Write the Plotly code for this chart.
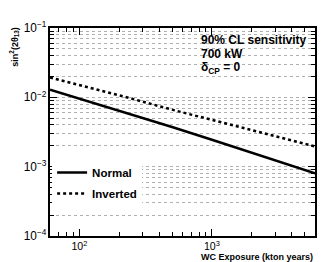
import plotly.graph_objects as go

exposure = [60, 100, 200, 500, 1000, 2000, 4000, 6000]
normal = [0.0129, 0.00962, 0.00641, 0.00374, 0.00244, 0.00159, 0.00103, 0.00080]
inverted = [0.0193, 0.0151, 0.0107, 0.00664, 0.00472, 0.00336, 0.00239, 0.00196]
series_names = ["Normal", "Inverted"]
info_lines = ["90% CL sensitivity", "700 kW", "δ<sub>CP</sub> = 0"]

FONT = "Liberation Sans, Arial, Helvetica, sans-serif"

fig = go.Figure()
fig.add_trace(go.Scatter(x=exposure, y=normal, mode="lines", name="<b>" + series_names[0] + "</b>",
                         legendgroup="a", line=dict(color="black", width=2.5)))
fig.add_trace(go.Scatter(x=exposure, y=inverted, mode="lines", name="<b>" + series_names[1] + "</b>",
                         legendgroup="b", line=dict(color="black", width=2.5, dash="dot")))

axis_common = dict(
    type="log", dtick=1, exponentformat="power", automargin=False,
    showline=True, linecolor="black", linewidth=1.5, mirror="allticks",
    ticks="inside", ticklen=7, tickwidth=1, tickcolor="black",
    zeroline=False,
)

fig.update_xaxes(**axis_common, range=[1.778, 3.778], showgrid=False,
                 tickfont=dict(family=FONT, size=8.5, color="black"),
                 minor=dict(ticks="inside", ticklen=4, tickcolor="black", showgrid=False, dtick="D1"))
fig.update_yaxes(**axis_common, range=[-4, -1], showgrid=True, gridcolor="#b0b0b0",
                 griddash="dot", gridwidth=1,
                 tickfont=dict(family=FONT, size=9.5, color="black"),
                 minor=dict(ticks="inside", ticklen=4, tickcolor="black", showgrid=True,
                            gridcolor="#b0b0b0", griddash="dot", gridwidth=1, dtick="D1"))

ys = [0.942, 0.875, 0.808]
for t, yy in zip(info_lines, ys):
    fig.add_annotation(text="<b>" + t + "</b>", xref="paper", yref="paper", x=0.561, y=yy,
                       xanchor="left", yanchor="middle", showarrow=False,
                       font=dict(family=FONT, size=12, color="black"))

fig.add_annotation(text="<b>WC Exposure (kton years)</b>", xref="paper", yref="paper",
                   x=1.0, y=-0.101, xanchor="right", yanchor="middle", showarrow=False,
                   font=dict(family=FONT, size=9, color="black"))
fig.add_annotation(text="<b>sin<sup>2</sup>(2θ<sub>13</sub>)</b>", xref="paper", yref="paper",
                   x=-0.135, y=1.01, xanchor="center", yanchor="top", textangle=-90,
                   showarrow=False, font=dict(family=FONT, size=9, color="black"))

# page body has an 8px default margin, so the figure is sized to end at the window edge
fig.update_layout(
    width=324, height=254,
    margin=dict(l=42, r=17, t=20, b=26),
    paper_bgcolor="white", plot_bgcolor="white",
    showlegend=True,
    legend=dict(x=0.008, y=0.375, xanchor="left", yanchor="top", bgcolor="white",
                borderwidth=0, itemwidth=30, tracegroupgap=2, traceorder="grouped",
                font=dict(family=FONT, size=11.5, color="black")),
)

fig.write_html("out.html")
